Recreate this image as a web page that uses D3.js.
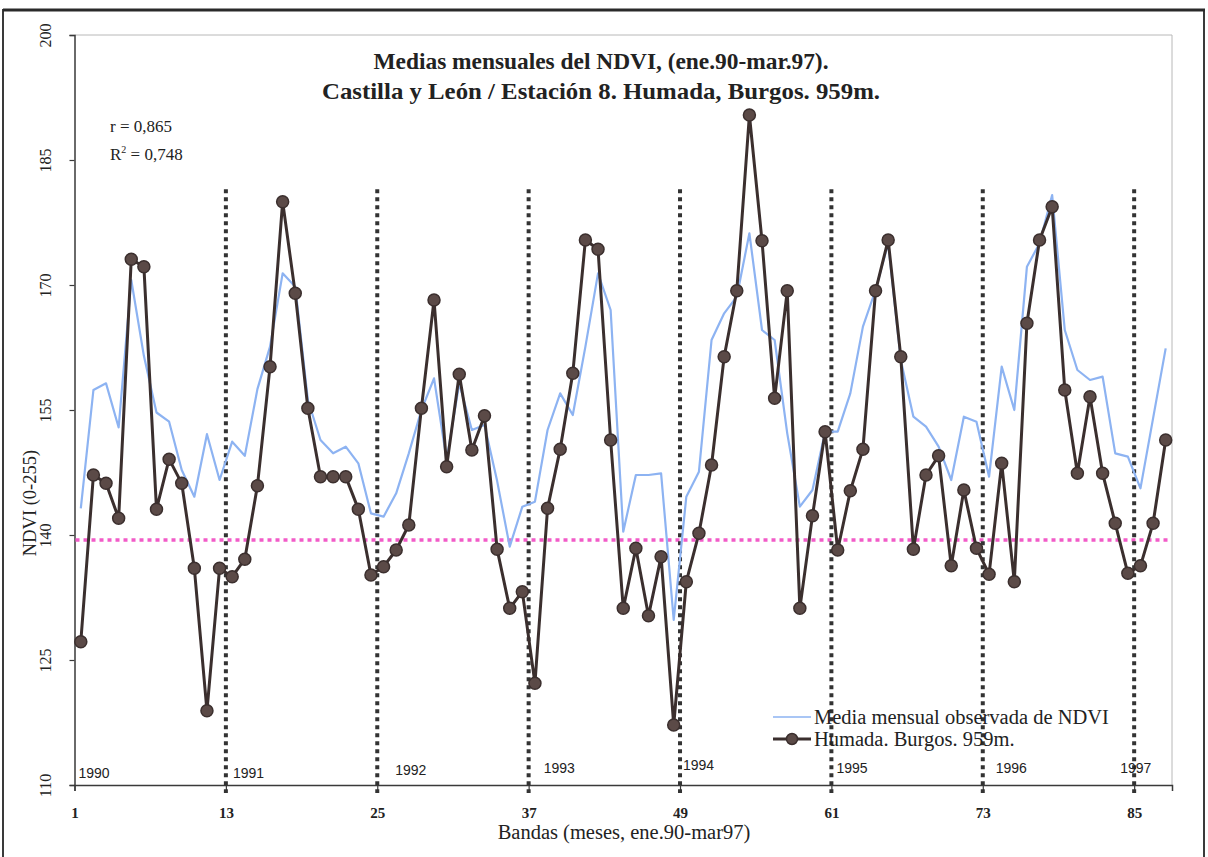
<!DOCTYPE html>
<html>
<head>
<meta charset="utf-8">
<script src="https://cdn.jsdelivr.net/npm/d3@7/dist/d3.min.js"></script>
<style>
  html, body { margin: 0; padding: 0; background: #ffffff; }
  svg { display: block; }
</style>
</head>
<body>
<svg id="chart" width="1208" height="857"></svg>
<script>
// ---------- DATA ----------
const months = d3.range(1, 88); // bandas 1..87 (ene.90 - mar.97)

const mediaMensual = [
  143.2, 157.4, 158.2, 152.9, 170.6, 161.5, 154.7, 153.6, 147.8, 144.6,
  152.1, 146.6, 151.2, 149.5, 157.5, 162.6, 171.4, 169.8, 156.2, 151.4,
  149.8, 150.6, 148.6, 142.6, 142.2, 145.0, 149.8, 155.0, 158.8, 149.0,
  158.2, 152.6, 153.2, 146.5, 138.6, 143.4, 144.0, 152.6, 157.0, 154.4,
  162.6, 171.4, 167.0, 140.4, 147.2, 147.2, 147.4, 129.8, 144.6, 147.6,
  163.4, 166.6, 168.6, 176.2, 164.6, 163.4, 152.2, 143.4, 145.4, 152.4,
  152.4, 157.0, 165.0, 169.4, 175.0, 161.0, 154.2, 153.0, 150.6, 146.6,
  154.2, 153.6, 147.0, 160.2, 155.0, 172.2, 175.0, 180.8, 164.6, 159.8,
  158.6, 159.0, 149.8, 149.4, 145.6, 154.0, 162.4
];

const humada = [
  127.2, 147.2, 146.2, 142.0, 173.1, 172.2, 143.1, 149.1, 146.2, 136.0,
  118.9, 136.0, 135.0, 137.1, 145.9, 160.2, 180.0, 169.0, 155.2, 147.0,
  147.0, 147.0, 143.1, 135.2, 136.2, 138.2, 141.2, 155.2, 168.2, 148.2,
  159.3, 150.2, 154.3, 138.3, 131.2, 133.2, 122.2, 143.2, 150.3, 159.4,
  175.4, 174.3, 151.4, 131.2, 138.4, 130.3, 137.4, 117.2, 134.4, 140.2,
  148.4, 161.4, 169.3, 190.4, 175.3, 156.4, 169.3, 131.2, 142.3, 152.4,
  138.2, 145.3, 150.3, 169.3, 175.4, 161.4, 138.3, 147.2, 149.5, 136.3,
  145.4, 138.4, 135.3, 148.6, 134.4, 165.4, 175.4, 179.4, 157.4, 147.4,
  156.6, 147.4, 141.4, 135.4, 136.3, 141.4, 151.4
];

const xTickLabels = [1, 13, 25, 37, 49, 61, 73, 85];
const yTickValues = [110, 125, 140, 155, 170, 185, 200];
const yearLabels = ["1990", "1991", "1992", "1993", "1994", "1995", "1996", "1997"];
const yearDividers = [13, 25, 37, 49, 61, 73, 85];
const referenceLine = 139.4;
const dividerTop = 181.5;

const titleLines = [
  "Medias mensuales del NDVI, (ene.90-mar.97).",
  "Castilla y León / Estación 8. Humada, Burgos. 959m."
];
const statsR = "r = 0,865";
const statsR2Value = " = 0,748";
const legendNames = ["Media mensual observada de NDVI", "Humada. Burgos. 959m."];
const xAxisTitle = "Bandas (meses, ene.90-mar97)";
const yAxisTitle = "NDVI (0-255)";

// ---------- LAYOUT ----------
const svg = d3.select("#chart");
const plot = { left: 74.5, right: 1172, top: 35, bottom: 785 };
const serif = "'Liberation Serif', 'Times New Roman', serif";
const sans = "'Liberation Sans', Arial, sans-serif";

const x = d3.scaleLinear().domain([0.5, 87.5]).range([plot.left, plot.right]);
const y = d3.scaleLinear().domain([110, 200]).range([plot.bottom, plot.top]);

// outer frame
svg.append("rect").attr("x", 3).attr("y", 10).attr("width", 1201).attr("height", 870)
  .attr("fill", "#ffffff").attr("stroke", "#3a3a3a").attr("stroke-width", 2);
svg.append("line").attr("x1", 3).attr("x2", 1205).attr("y1", 10).attr("y2", 10)
  .attr("stroke", "#2a2a2a").attr("stroke-width", 3);

// plot area frame (light top/right)
svg.append("line").attr("x1", plot.left).attr("x2", plot.right).attr("y1", plot.top).attr("y2", plot.top)
  .attr("stroke", "#b8b8b8").attr("stroke-width", 1);
svg.append("line").attr("x1", plot.right).attr("x2", plot.right).attr("y1", plot.top).attr("y2", plot.bottom)
  .attr("stroke", "#b8b8b8").attr("stroke-width", 1);

// Y axis
const yAxis = d3.axisLeft(y).tickValues(yTickValues).tickSize(5).tickFormat(d3.format("d"));
const gy = svg.append("g").attr("transform", `translate(${plot.left},0)`).call(yAxis);
gy.select(".domain").attr("stroke", "#3a3a3a").attr("stroke-width", 1.5);
gy.selectAll(".tick line").attr("stroke", "#3a3a3a").attr("stroke-width", 1.2);
gy.selectAll(".tick text")
  .attr("font-family", serif).attr("font-size", 16).attr("fill", "#222")
  .attr("text-anchor", "middle")
  .attr("x", 0).attr("dy", 0)
  .attr("transform", "translate(-27,0) rotate(-90)")
  .attr("dominant-baseline", "middle");

// X axis: ticks at category boundaries
const xAxis = d3.axisBottom(x).tickValues(xTickLabels.map(d => d - 0.5)).tickSize(6)
  .tickFormat(d => String(d + 0.5));
const gx = svg.append("g").attr("transform", `translate(0,${plot.bottom})`).call(xAxis);
gx.select(".domain").attr("stroke", "#3a3a3a").attr("stroke-width", 1.5);
gx.selectAll(".tick line").attr("stroke", "#3a3a3a").attr("stroke-width", 1.2);
gx.selectAll(".tick text")
  .attr("font-family", serif).attr("font-size", 15).attr("font-weight", "bold")
  .attr("fill", "#222").attr("dy", "1.6em");

// axis titles
svg.append("text").attr("x", 624).attr("y", 839).attr("text-anchor", "middle")
  .attr("font-family", serif).attr("font-size", 20.5).attr("fill", "#222").text(xAxisTitle);
svg.append("text").attr("transform", "translate(36,503) rotate(-90)").attr("text-anchor", "middle")
  .attr("font-family", serif).attr("font-size", 18.5).attr("fill", "#222").text(yAxisTitle);

// title
titleLines.forEach((t, i) => {
  svg.append("text").attr("x", 601).attr("y", 69 + i * 30).attr("text-anchor", "middle")
    .attr("font-family", serif).attr("font-size", 24).attr("font-weight", "bold")
    .attr("fill", "#222").attr("textLength", i === 0 ? 455 : 558)
    .attr("lengthAdjust", "spacingAndGlyphs").text(t);
});

// stats
svg.append("text").attr("x", 110).attr("y", 132).attr("font-family", serif)
  .attr("font-size", 17).attr("fill", "#222").text(statsR);
const r2 = svg.append("text").attr("x", 110).attr("y", 160).attr("font-family", serif)
  .attr("font-size", 17).attr("fill", "#222");
r2.append("tspan").text("R");
r2.append("tspan").attr("font-size", 10).attr("dy", -7).text("2");
r2.append("tspan").attr("dy", 7).text(statsR2Value);

// reference (pink) dotted line
svg.append("line").attr("x1", plot.left + 1).attr("x2", x(87.3))
  .attr("y1", y(referenceLine)).attr("y2", y(referenceLine))
  .attr("stroke", "#f25bc8").attr("stroke-width", 3.5).attr("stroke-dasharray", "4,4");

// year dividers
svg.selectAll("line.divider").data(yearDividers).enter().append("line")
  .attr("class", "divider")
  .attr("x1", d => x(d - 0.5)).attr("x2", d => x(d - 0.5))
  .attr("y1", y(dividerTop)).attr("y2", plot.bottom + 8)
  .attr("stroke", "#333").attr("stroke-width", 4).attr("stroke-dasharray", "4,4");

// year labels (placed just right of each year start)
const yearDx = [4, 7, 18, 15, 3, 5, 13, -14];
const yearDy = [0, 0, -3, -5, -8, -5, -5, -5];
svg.selectAll("text.year").data(yearLabels).enter().append("text")
  .attr("class", "year")
  .attr("x", (d, i) => x(i * 12 + 0.5) + yearDx[i])
  .attr("y", (d, i) => 778 + yearDy[i])
  .attr("font-family", sans).attr("font-size", 14).attr("fill", "#222")
  .text(d => d);

// series: media mensual (blue)
const line = d3.line().x((d, i) => x(months[i])).y(d => y(d));
svg.append("path").datum(mediaMensual).attr("d", line)
  .attr("fill", "none").attr("stroke", "#8db3f2").attr("stroke-width", 2.2)
  .attr("stroke-linejoin", "round");

// series: Humada (dark with circles)
svg.append("path").datum(humada).attr("d", line)
  .attr("fill", "none").attr("stroke", "#3b2f2e").attr("stroke-width", 3)
  .attr("stroke-linejoin", "round");
svg.selectAll("circle.pt").data(humada).enter().append("circle")
  .attr("class", "pt")
  .attr("cx", (d, i) => x(months[i])).attr("cy", d => y(d)).attr("r", 6)
  .attr("fill", "#5b4a47").attr("stroke", "#3b2f2e").attr("stroke-width", 1.5);

// legend
const lg = svg.append("g").attr("transform", "translate(773,717)");
lg.append("line").attr("x1", 0).attr("x2", 38).attr("y1", 0).attr("y2", 0)
  .attr("stroke", "#8db3f2").attr("stroke-width", 1.5);
lg.append("text").attr("x", 41).attr("y", 7).attr("font-family", serif).attr("font-size", 20.5)
  .attr("fill", "#222").text(legendNames[0]);
lg.append("line").attr("x1", 0).attr("x2", 38).attr("y1", 22).attr("y2", 22)
  .attr("stroke", "#3b2f2e").attr("stroke-width", 3);
lg.append("circle").attr("cx", 19).attr("cy", 22).attr("r", 5.5)
  .attr("fill", "#5b4a47").attr("stroke", "#3b2f2e").attr("stroke-width", 1.5);
lg.append("text").attr("x", 41).attr("y", 29).attr("font-family", serif).attr("font-size", 20.5)
  .attr("fill", "#222").text(legendNames[1]);
</script>
</body>
</html>
